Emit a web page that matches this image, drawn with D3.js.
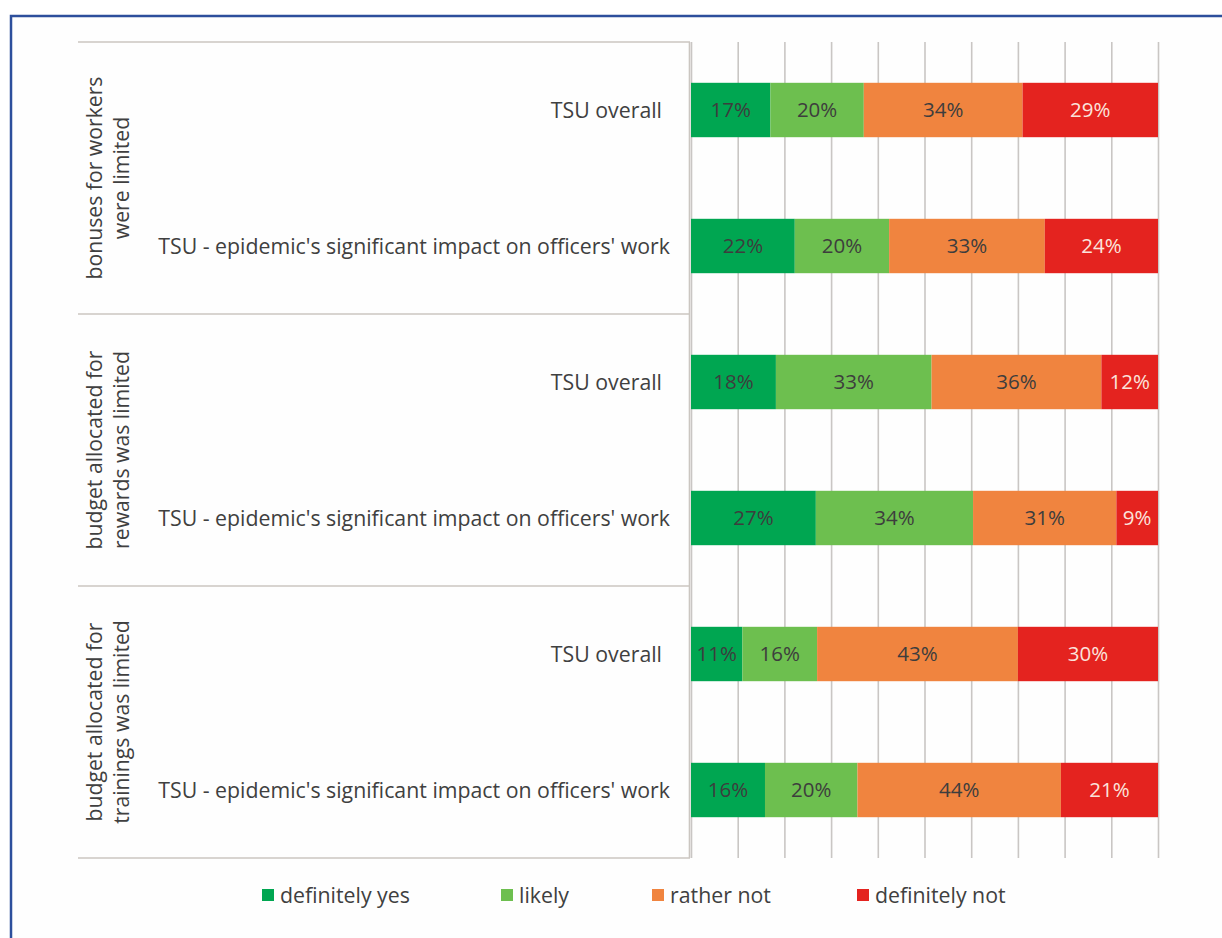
<!DOCTYPE html>
<html>
<head>
<meta charset="utf-8">
<script src="https://cdn.jsdelivr.net/npm/d3@7"></script>
<style>
  html, body { margin: 0; padding: 0; background: #ffffff; }
  svg { display: block; }
  text { font-family: "Open Sans", Lato, sans-serif; fill: #404040; }
</style>
</head>
<body>
<svg id="chart" width="1222" height="938"></svg>
<script>
// Survey answers, percentages per row (each row is shown as a 100% stacked bar)
const answers = ["definitely yes", "likely", "rather not", "definitely not"];
const answerColors = ["#00a651", "#6dbf4f", "#f0843f", "#e4231f"];

const groupLabels = [
  ["bonuses for workers", "were limited"],
  ["budget allocated for", "rewards was limited"],
  ["budget allocated for", "trainings was limited"]
];
const rowLabels = [
  "TSU overall",
  "TSU - epidemic's significant impact on officers' work",
  "TSU overall",
  "TSU - epidemic's significant impact on officers' work",
  "TSU overall",
  "TSU - epidemic's significant impact on officers' work"
];
const rowGroup = [0, 0, 1, 1, 2, 2];

const definitelyYes = [17, 22, 18, 27, 11, 16];
const likely        = [20, 20, 33, 34, 16, 20];
const ratherNot     = [34, 33, 36, 31, 43, 44];
const definitelyNot = [29, 24, 12,  9, 30, 21];

const gridTicks = [0, 0.1, 0.2, 0.3, 0.4, 0.5, 0.6, 0.7, 0.8, 0.9, 1];

const rows = rowLabels.map((label, i) => ({
  id: i,
  label,
  group: rowGroup[i],
  "definitely yes": definitelyYes[i],
  "likely": likely[i],
  "rather not": ratherNot[i],
  "definitely not": definitelyNot[i]
}));

const svg = d3.select("#chart");

// outer frame
svg.append("rect")
  .attr("x", 0).attr("y", 0).attr("width", 1222).attr("height", 938)
  .attr("fill", "#ffffff");
svg.append("rect")
  .attr("x", 11).attr("y", 16).attr("width", 1260).attr("height", 960)
  .attr("fill", "#fefefe")
  .attr("stroke", "#2d4f9c").attr("stroke-width", 2.5);

const plotTop = 42, plotBottom = 858;
const x = d3.scaleLinear().domain([0, 1]).range([691, 1158]);
const y = d3.scaleBand()
  .domain(rows.map(d => d.id))
  .range([plotTop, plotBottom])
  .paddingInner(0.6)
  .paddingOuter(0.3);

// vertical gridlines
const grid = svg.append("g")
  .attr("transform", `translate(0,${plotBottom})`)
  .call(d3.axisBottom(x).tickValues(gridTicks).tickSize(-(plotBottom - plotTop)).tickFormat(""));
grid.select(".domain").remove();
grid.selectAll(".tick line").attr("stroke", "#c9c6c4").attr("stroke-width", 1.6);

// category panel: group separators and right border
const groupBounds = [0, 2, 4, 6].map(k => plotTop + (plotBottom - plotTop) * k / 6);
svg.append("g").selectAll("line")
  .data(groupBounds)
  .join("line")
  .attr("x1", 78).attr("x2", 690)
  .attr("y1", d => d).attr("y2", d => d)
  .attr("stroke", "#cbc6c1").attr("stroke-width", 1.6);
svg.append("line")
  .attr("x1", 689.5).attr("x2", 689.5)
  .attr("y1", plotTop).attr("y2", plotBottom)
  .attr("stroke", "#cbc6c1").attr("stroke-width", 1.6);

// stacked bars, normalised to 100%
const stack = d3.stack().keys(answers).offset(d3.stackOffsetExpand);
const series = stack(rows);

const layers = svg.append("g").selectAll("g")
  .data(series)
  .join("g")
  .attr("fill", (d, i) => answerColors[i]);

layers.selectAll("rect")
  .data(d => d.map(seg => ({ seg, key: d.key })))
  .join("rect")
  .attr("x", d => x(d.seg[0]))
  .attr("width", d => x(d.seg[1]) - x(d.seg[0]))
  .attr("y", d => y(d.seg.data.id))
  .attr("height", y.bandwidth());

// value labels
layers.selectAll("text")
  .data(d => d.map(seg => ({ seg, key: d.key })))
  .join("text")
  .attr("x", d => (x(d.seg[0]) + x(d.seg[1])) / 2)
  .attr("y", d => y(d.seg.data.id) + y.bandwidth() / 2)
  .attr("dy", "0.36em")
  .attr("text-anchor", "middle")
  .style("font-size", "20.5px")
  .style("fill", d => d.key === "definitely not" ? "#fbe3dc" : "#3d3d3d")
  .text(d => d.seg.data[d.key] + "%");

// row labels
svg.append("g").selectAll("text")
  .data(rows)
  .join("text")
  .attr("x", d => d.label === "TSU overall" ? 662 : 670)
  .attr("y", d => y(d.id) + y.bandwidth() / 2)
  .attr("dy", "0.36em")
  .attr("text-anchor", "end")
  .style("font-size", "21.3px")
  .text(d => d.label);

// group labels, rotated
const groupG = svg.append("g").selectAll("g")
  .data(groupLabels)
  .join("g")
  .attr("transform", (d, i) => {
    const cy = (groupBounds[i] + groupBounds[i + 1]) / 2;
    return `translate(108,${cy}) rotate(-90)`;
  });
groupG.selectAll("text")
  .data(d => d)
  .join("text")
  .attr("x", 0)
  .attr("y", (d, j) => (j - 0.5) * 27)
  .attr("dy", "0.36em")
  .attr("text-anchor", "middle")
  .style("font-size", "21.2px")
  .text(d => d);

// legend
const legendX = [262, 501, 652, 857];
const legend = svg.append("g").selectAll("g")
  .data(answers)
  .join("g")
  .attr("transform", (d, i) => `translate(${legendX[i]},895)`);
legend.append("rect")
  .attr("x", 0).attr("y", -6).attr("width", 12).attr("height", 12)
  .attr("fill", (d, i) => answerColors[i]);
legend.append("text")
  .attr("x", 18).attr("y", 0).attr("dy", "0.36em")
  .style("font-size", "21.3px")
  .text(d => d);
</script>
</body>
</html>
